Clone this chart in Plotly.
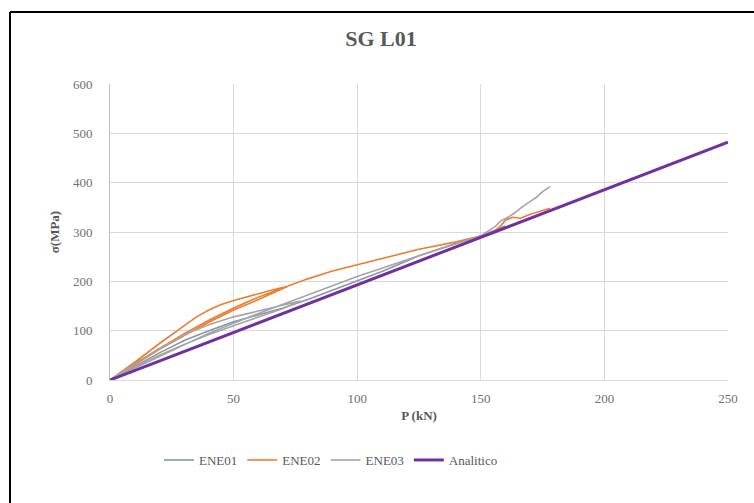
import plotly.graph_objects as go

# Load P (kN) and stress (MPa) for each test, plus the analytical line
ene01_p = [0, 10, 20, 30, 40, 50, 60, 70, 80, 90, 100, 110, 125, 140, 150, 160]
ene01_s = [0, 28, 55, 80, 100, 118, 132, 146, 163, 182, 202, 220, 252, 277, 292, 312]

ene02_p = [0, 10, 20, 30, 35, 40, 45, 50, 55, 60, 66, 72, 66, 60, 50, 40, 30, 20, 10, 0,
           10, 20, 30, 40, 50, 60, 72, 80, 90, 100, 110, 125, 140, 150, 155,
           158, 160, 163, 166, 170, 178]
ene02_s = [0, 36, 74, 110, 128, 142, 153, 161, 168, 175, 183, 190, 176, 163, 142, 117, 90, 62, 31, 0,
           33, 64, 94, 121, 146, 168, 190, 205, 221, 234, 246, 265, 280, 292, 300,
           312, 324, 330, 328, 336, 348]

ene03_p = [0, 10, 20, 30, 40, 50, 60, 70, 77, 70, 60, 50, 40, 30, 20, 10, 0,
           20, 40, 60, 80, 100, 125, 150, 156, 158, 161, 160, 164, 167, 166,
           170, 173, 172, 175, 178]
ene03_s = [0, 32, 64, 92, 112, 128, 140, 151, 160, 145, 128, 110, 92, 72, 50, 26, 0,
           48, 95, 135, 172, 210, 252, 292, 312, 322, 330, 326, 340, 352, 348,
           362, 372, 368, 382, 392]

analitico_p = [0, 250]
analitico_s = [0, 482]

SERIF = "Liberation Serif, Times New Roman, serif"
GRAY = "#595959"
TICK = "#6f6f6f"

fig = go.Figure()
fig.add_trace(go.Scatter(x=ene01_p, y=ene01_s, mode="lines", name="ENE01",
                         line=dict(color="#8497b0", width=1.6)))
fig.add_trace(go.Scatter(x=ene02_p, y=ene02_s, mode="lines", name="ENE02",
                         line=dict(color="#ed7d31", width=1.6)))
fig.add_trace(go.Scatter(x=ene03_p, y=ene03_s, mode="lines", name="ENE03",
                         line=dict(color="#a5a5a5", width=1.6)))
fig.add_trace(go.Scatter(x=analitico_p, y=analitico_s, mode="lines", name="Analitico",
                         line=dict(color="#7030a0", width=3)))

L, R, T, B = 110, 26, 84, 123
W, H = 754, 503
pw, ph = W - L - R, H - T - B


def px(x):
    return (x - L) / pw


def py(y):
    return (H - B - y) / ph


fig.update_layout(
    width=W, height=H,
    margin=dict(l=L, r=R, t=T, b=B),
    paper_bgcolor="white", plot_bgcolor="white",
    font=dict(family=SERIF, color=GRAY, size=12),
    title=dict(text="<b>SG L01</b>", x=px(381), xref="paper", xanchor="center",
               y=1 - 38 / H, yanchor="middle",
               font=dict(family=SERIF, size=22, color=GRAY)),
    xaxis=dict(range=[0, 250], dtick=50, showgrid=True, gridcolor="#d9d9d9",
               gridwidth=1, zeroline=False, showline=True, linecolor="#d9d9d9",
               ticks="outside", ticklen=6, tickcolor="rgba(0,0,0,0)",
               tickfont=dict(family=SERIF, size=13, color=TICK),
               title=dict(text="<b>P (kN)</b>", standoff=6,
                          font=dict(family=SERIF, size=13, color=GRAY))),
    yaxis=dict(range=[0, 600], dtick=100, showgrid=True, gridcolor="#d9d9d9",
               gridwidth=1, zeroline=False, showline=True, linecolor="#bfbfbf",
               ticks="outside", ticklen=14, tickcolor="rgba(0,0,0,0)",
               tickfont=dict(family=SERIF, size=13, color=TICK),
               title=dict(text="<b>σ(MPa)</b>", standoff=10,
                          font=dict(family=SERIF, size=13, color=GRAY))),
    legend=dict(orientation="h", x=px(331), xanchor="center", y=py(460),
                yanchor="middle", font=dict(family=SERIF, size=13, color=GRAY),
                bgcolor="rgba(0,0,0,0)", itemwidth=30),
    showlegend=True,
)

# Frame lines along the left and top edges of the figure
fig.add_shape(type="line", xref="paper", yref="paper",
              x0=px(10), x1=px(10), y0=py(12), y1=py(H + 5),
              line=dict(color="black", width=2))
fig.add_shape(type="line", xref="paper", yref="paper",
              x0=px(10), x1=px(W + 5), y0=py(12), y1=py(12),
              line=dict(color="black", width=2))

fig.write_html("out.html")
